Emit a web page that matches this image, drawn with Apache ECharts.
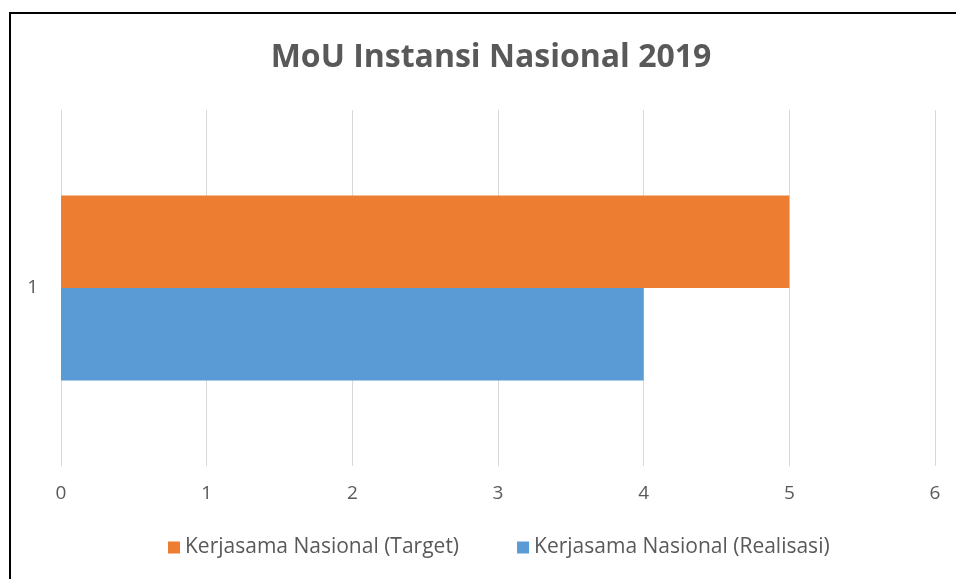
<!DOCTYPE html>
<html>
<head>
<meta charset="utf-8">
<script src="https://cdn.jsdelivr.net/npm/echarts@6/dist/echarts.min.js"></script>
<style>
html, body { margin: 0; padding: 0; background: #fff; }
#chart { width: 956px; height: 579px; }
</style>
</head>
<body>
<div id="chart"></div>
<script>
var categories = ['1'];
var targetValues = [5];
var realisasiValues = [4];
var seriesNames = ['Kerjasama Nasional (Target)', 'Kerjasama Nasional (Realisasi)'];

var font = '"Open Sans", "Noto Sans", sans-serif';

var option = {
	animation: false,
	backgroundColor: '#fff',
	// chart border (only left and top visible)
	graphic: [{
		type: 'rect',
		shape: { x: 10, y: 13, width: 1000, height: 1000 },
		style: { fill: 'none', stroke: '#000', lineWidth: 2 }
	}],
	title: {
		text: 'MoU Instansi Nasional 2019',
		left: 486,
		textAlign: 'center',
		top: 37,
		textStyle: { fontFamily: font, fontSize: 32, fontWeight: 'bold', color: '#595959' }
	},
	legend: {
		data: seriesNames,
		bottom: 16,
		left: 163,
		itemWidth: 12,
		itemHeight: 12,
		itemGap: 58,
		icon: 'rect',
		textStyle: { fontFamily: font, fontSize: 21, color: '#595959' }
	},
	grid: { left: 61, right: 21, top: 110, bottom: 113, containLabel: false },
	xAxis: {
		type: 'value',
		min: 0,
		max: 6,
		interval: 1,
		axisLine: { show: false },
		axisTick: { show: false },
		splitLine: { lineStyle: { color: '#d9d9d9', width: 1 } },
		axisLabel: { margin: 18, fontFamily: font, fontSize: 19, color: '#595959' }
	},
	yAxis: {
		type: 'category',
		data: categories,
		inverse: true,
		axisLine: { show: false },
		axisTick: { show: false },
		axisLabel: { margin: 23, fontFamily: font, fontSize: 19, color: '#595959' }
	},
	series: [{
		name: seriesNames[0],
		type: 'bar',
		data: targetValues,
		barGap: 0,
		barCategoryGap: '48%',
		itemStyle: { color: '#ed7d31' }
	}, {
		name: seriesNames[1],
		type: 'bar',
		data: realisasiValues,
		barGap: 0,
		barCategoryGap: '48%',
		itemStyle: { color: '#5b9bd5' }
	}]
};

var myChart = echarts.init(document.getElementById('chart'));
myChart.setOption(option);
</script>
</body>
</html>
